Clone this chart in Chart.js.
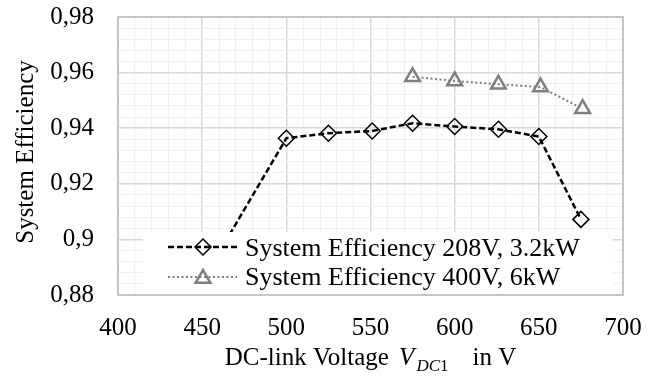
<!DOCTYPE html>
<html>
<head>
<meta charset="utf-8">
<script src="https://cdn.jsdelivr.net/npm/chart.js@4.4.1/dist/chart.umd.min.js"></script>
<style>
  html, body { margin: 0; padding: 0; background: #ffffff; }
  #wrap { width: 655px; height: 377px; }
</style>
</head>
<body>
<div id="wrap"><canvas id="c" width="655" height="377"></canvas></div>
<script>
// Measured system efficiency versus DC-link voltage
const seriesNames = ['System Efficiency 208V, 3.2kW', 'System Efficiency 400V, 6kW'];
const voltage208 = [450, 500, 525, 551, 575, 600, 626, 650, 675];
const efficiency208 = [0.885, 0.9364, 0.9382, 0.939, 0.9418, 0.9406, 0.9396, 0.937, 0.9072];
const voltage400 = [575, 600, 626, 651, 676];
const efficiency400 = [0.9585, 0.957, 0.9558, 0.9548, 0.947];
const xTickLabels = ['400', '450', '500', '550', '600', '650', '700'];
const yTickLabels = ['0,88', '0,9', '0,92', '0,94', '0,96', '0,98'];
const xTitleParts = ['DC-link Voltage ', 'V', 'DC', '1', 'in V'];
const yTitle = 'System Efficiency';

const SERIF = "'Liberation Serif', 'Times New Roman', serif";
const X_MIN = 400, X_MAX = 700, X_MAJOR = 50, X_MINOR = 10;
const Y_MIN = 0.88, Y_MAX = 0.98, Y_MAJOR_EVERY = 5, Y_MINOR = 0.004;

const toPoints = (xs, ys) => xs.map((x, i) => ({ x: x, y: ys[i] }));

const seriesStyles = [
  { color: '#000000', width: 2.5, dash: [6, 3], marker: 'rectRot', radius: 8, markerWidth: 1.5 },
  { color: '#7f7f7f', width: 2, dash: [2, 2.5], marker: 'triangle', radius: 8.5, markerWidth: 2.5 }
];

function markerPath(ctx, style, x, y, r) {
  ctx.beginPath();
  if (style === 'rectRot') {
    ctx.moveTo(x - r, y);
    ctx.lineTo(x, y - r);
    ctx.lineTo(x + r, y);
    ctx.lineTo(x, y + r);
  } else {
    for (let k = 0; k < 3; k++) {
      const a = k * 2 * Math.PI / 3;
      const px = x + Math.sin(a) * r, py = y - Math.cos(a) * r;
      if (k === 0) ctx.moveTo(px, py); else ctx.lineTo(px, py);
    }
  }
  ctx.closePath();
}

// Legend box in the lower part of the plot, axis titles and plot frame
const decorations = {
  id: 'decorations',
  afterDatasetsDraw(chart) {
    const ctx = chart.ctx;
    const a = chart.chartArea;
    ctx.save();

    // legend
    const box = { left: a.left + 25, top: 232, right: a.right - 10, bottom: a.bottom - 1 };
    ctx.fillStyle = '#ffffff';
    ctx.fillRect(box.left, box.top, box.right - box.left, box.bottom - box.top);
    const rows = [{ line: 247, text: 256 }, { line: 277, text: 285 }];
    chart.data.datasets.forEach((ds, i) => {
      const st = seriesStyles[i];
      const row = rows[i];
      ctx.strokeStyle = st.color;
      ctx.lineWidth = st.width;
      ctx.setLineDash(st.dash);
      ctx.beginPath();
      ctx.moveTo(box.left + 25, row.line);
      ctx.lineTo(box.left + 94, row.line);
      ctx.stroke();
      ctx.setLineDash([]);
      ctx.lineWidth = st.markerWidth;
      const my = st.marker === 'triangle' ? row.line + 1.5 : row.line;
      markerPath(ctx, st.marker, box.left + 60, my, st.radius);
      ctx.stroke();
      ctx.fillStyle = '#000000';
      ctx.font = '26px ' + SERIF;
      ctx.textAlign = 'left';
      ctx.textBaseline = 'alphabetic';
      ctx.fillText(ds.label, box.left + 102, row.text);
    });

    // plot frame
    ctx.strokeStyle = '#c4c4c4';
    ctx.lineWidth = 2;
    ctx.strokeRect(a.left, a.top, a.right - a.left, a.bottom - a.top);

    // y axis title
    ctx.fillStyle = '#000000';
    ctx.font = '25px ' + SERIF;
    ctx.save();
    ctx.translate(33, (a.top + a.bottom) / 2 - 4);
    ctx.rotate(-Math.PI / 2);
    ctx.textAlign = 'center';
    ctx.textBaseline = 'alphabetic';
    ctx.fillText(yTitle, 0, 0);
    ctx.restore();

    // x axis title with italic subscripted symbol
    const base = 365;
    const fUp = '25px ' + SERIF;
    const fIt = 'italic 25px ' + SERIF;
    const fSubIt = 'italic 17px ' + SERIF;
    const fSub = '17px ' + SERIF;
    const parts = [
      { t: xTitleParts[0], f: fUp, dy: 0, gap: 4 },
      { t: xTitleParts[1], f: fIt, dy: 0, gap: 2 },
      { t: xTitleParts[2], f: fSubIt, dy: 6, gap: 0 },
      { t: xTitleParts[3], f: fSub, dy: 6, gap: 24 },
      { t: xTitleParts[4], f: fUp, dy: 0, gap: 0 }
    ];
    let total = 0;
    parts.forEach(p => { ctx.font = p.f; p.w = ctx.measureText(p.t).width; total += p.w + p.gap; });
    let x = (a.left + a.right) / 2 - total / 2;
    ctx.textAlign = 'left';
    parts.forEach(p => {
      ctx.font = p.f;
      ctx.fillText(p.t, x, base + p.dy);
      x += p.w + p.gap;
    });
    ctx.restore();
  }
};

new Chart(document.getElementById('c'), {
  type: 'scatter',
  data: {
    datasets: [
      {
        label: seriesNames[0],
        data: toPoints(voltage208, efficiency208),
        showLine: true,
        borderColor: seriesStyles[0].color,
        borderWidth: seriesStyles[0].width,
        borderDash: seriesStyles[0].dash,
        pointStyle: seriesStyles[0].marker,
        pointRadius: seriesStyles[0].radius,
        pointBorderWidth: seriesStyles[0].markerWidth,
        pointBorderColor: seriesStyles[0].color,
        pointBackgroundColor: 'rgba(0,0,0,0)'
      },
      {
        label: seriesNames[1],
        data: toPoints(voltage400, efficiency400),
        showLine: true,
        borderColor: seriesStyles[1].color,
        borderWidth: seriesStyles[1].width,
        borderDash: seriesStyles[1].dash,
        pointStyle: seriesStyles[1].marker,
        pointRadius: seriesStyles[1].radius,
        pointBorderWidth: seriesStyles[1].markerWidth,
        pointBorderColor: seriesStyles[1].color,
        pointBackgroundColor: 'rgba(0,0,0,0)'
      }
    ]
  },
  options: {
    responsive: false,
    animation: false,
    devicePixelRatio: 1,
    layout: { padding: { top: 17, right: 32, left: 0, bottom: 0 } },
    plugins: { legend: { display: false }, tooltip: { enabled: false } },
    scales: {
      x: {
        type: 'linear',
        min: X_MIN, max: X_MAX,
        afterFit(scale) { scale.height = 82; scale.paddingLeft = 0; scale.paddingRight = 0; },
        border: { display: false },
        grid: {
          drawTicks: false,
          color: (c) => Math.round(c.tick.value) % X_MAJOR === 0 ? '#d9d9d9' : '#f0f0f0',
          lineWidth: (c) => Math.round(c.tick.value) % X_MAJOR === 0 ? 1.5 : 1
        },
        ticks: {
          stepSize: X_MINOR,
          autoSkip: false,
          maxRotation: 0,
          padding: 18,
          color: '#000000',
          font: { family: SERIF, size: 25 },
          callback: (v) => {
            const k = Math.round(v);
            return k % X_MAJOR === 0 ? xTickLabels[(k - X_MIN) / X_MAJOR] : '';
          }
        }
      },
      y: {
        type: 'linear',
        min: Y_MIN, max: Y_MAX,
        afterFit(scale) { scale.width = 118; scale.paddingTop = 0; scale.paddingBottom = 0; },
        border: { display: false },
        grid: {
          drawTicks: false,
          color: (c) => Math.round((c.tick.value - Y_MIN) / Y_MINOR) % Y_MAJOR_EVERY === 0 ? '#d9d9d9' : '#f0f0f0',
          lineWidth: (c) => Math.round((c.tick.value - Y_MIN) / Y_MINOR) % Y_MAJOR_EVERY === 0 ? 1.5 : 1
        },
        ticks: {
          stepSize: Y_MINOR,
          autoSkip: false,
          padding: 24,
          color: '#000000',
          font: { family: SERIF, size: 25 },
          callback: (v) => {
            const idx = Math.round((v - Y_MIN) / Y_MINOR);
            return idx % Y_MAJOR_EVERY === 0 ? yTickLabels[idx / Y_MAJOR_EVERY] : '';
          }
        }
      }
    }
  },
  plugins: [decorations]
});
</script>
</body>
</html>
